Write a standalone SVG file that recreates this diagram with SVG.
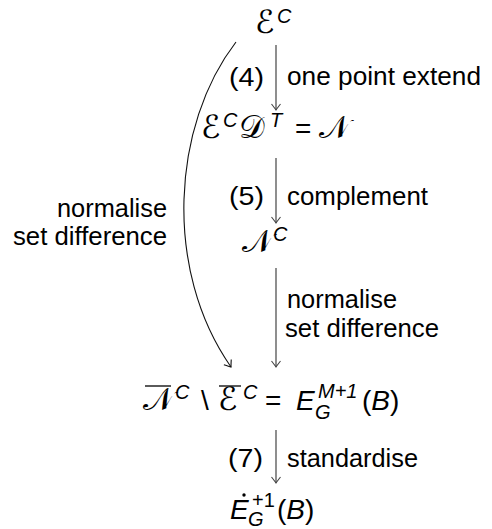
<svg xmlns="http://www.w3.org/2000/svg" width="492" height="529" viewBox="0 0 492 529">
<defs>
<style>
.lbl{font-family:"Liberation Sans",Arial,sans-serif;font-size:25px;fill:#000}
.m{font-family:"DejaVu Sans",sans-serif;font-size:32px;fill:#000}
.mi{font-family:"Liberation Sans",Arial,sans-serif;font-style:italic;font-size:28px;fill:#000}
.up{font-family:"Liberation Sans",Arial,sans-serif;font-size:28px;fill:#000}
.sup{font-family:"Liberation Sans",Arial,sans-serif;font-style:italic;font-size:20px;fill:#000}
.supu{font-family:"Liberation Sans",Arial,sans-serif;font-size:20px;fill:#000}
.arr{fill:none;stroke:#444;stroke-width:1.2;marker-end:url(#ah)}
.cur{fill:none;stroke:#111;stroke-width:1.1;marker-end:url(#ah2)}
.ov{stroke:#000;stroke-width:1.3}
</style>
<marker id="ah" markerWidth="12" markerHeight="12" viewBox="-8 -6 10 12" refX="0" refY="0" orient="auto" markerUnits="userSpaceOnUse">
<path d="M-6,-4.5 Q-1.5,-1 0,0 Q-1.5,1 -6,4.5" fill="none" stroke="#444" stroke-width="1.1"/>
</marker>
<marker id="ah2" markerWidth="12" markerHeight="12" viewBox="-8 -6 10 12" refX="0" refY="0" orient="auto" markerUnits="userSpaceOnUse">
<path d="M-6,-4.5 Q-1.5,-1 0,0 Q-1.5,1 -6,4.5" fill="none" stroke="#111" stroke-width="1.1"/>
</marker>
</defs>
<rect width="492" height="529" fill="#fff"/>
<g id="connectors">
<path class="arr" d="M276,45 V110"/>
<path class="arr" d="M276,158 V223"/>
<path class="arr" d="M276,268 V367"/>
<path class="arr" d="M276,430 V483"/>
<path class="cur" d="M236,42 C172,125 163,270 231,367"/>
<text class="lbl" x="264" y="86" text-anchor="end" textLength="35" lengthAdjust="spacingAndGlyphs">(4)</text>
<text class="lbl" x="287" y="85" textLength="194" lengthAdjust="spacingAndGlyphs">one point extend</text>
<text class="lbl" x="264" y="205" text-anchor="end" textLength="35" lengthAdjust="spacingAndGlyphs">(5)</text>
<text class="lbl" x="287" y="205" textLength="141" lengthAdjust="spacingAndGlyphs">complement</text>
<text class="lbl" x="287" y="308" textLength="110" lengthAdjust="spacingAndGlyphs">normalise</text>
<text class="lbl" x="285" y="337" textLength="154" lengthAdjust="spacingAndGlyphs">set difference</text>
<text class="lbl" x="167" y="217" text-anchor="end" textLength="110" lengthAdjust="spacingAndGlyphs">normalise</text>
<text class="lbl" x="167" y="245" text-anchor="end" textLength="154" lengthAdjust="spacingAndGlyphs">set difference</text>
<text class="lbl" x="263" y="467" text-anchor="end" textLength="35" lengthAdjust="spacingAndGlyphs">(7)</text>
<text class="lbl" x="287" y="467" textLength="131" lengthAdjust="spacingAndGlyphs">standardise</text>
</g>
<g id="node-EC">
<text class="m" x="255" y="33">ℰ</text>
<text class="sup" x="277" y="23">C</text>
</g>
<g id="node-ECDT">
<text class="m" x="201" y="138">ℰ</text>
<text class="sup" x="223" y="127">C</text>
<text class="m" x="239" y="138">𝒟</text>
<text class="sup" x="270" y="127">T</text>
<text class="up" x="295" y="138">=</text>
<text class="m" x="319" y="138">𝒩</text>
</g>
<g id="node-NC">
<text class="m" x="242" y="252">𝒩</text>
<text class="sup" x="273" y="241">C</text>
</g>
<g id="node-diff">
<line class="ov" x1="145" y1="386" x2="171" y2="386"/>
<line class="ov" x1="219" y1="386" x2="241" y2="386"/>
<text class="m" x="143" y="410">𝒩</text>
<text class="sup" x="175" y="399">C</text>
<text class="up" x="201" y="410">\</text>
<text class="m" x="218" y="410">ℰ</text>
<text class="sup" x="243" y="399">C</text>
<text class="up" x="265" y="410">=</text>
<text class="mi" x="296" y="410">E</text>
<text class="sup" x="315" y="419">G</text>
<text class="sup" x="318" y="398">M<tspan class="supu">+1</tspan></text>
<text class="up" x="362" y="410">(<tspan class="mi">B</tspan>)</text>
</g>
<g id="node-Edot">
<text class="mi" x="230" y="519">E</text>
<circle cx="244" cy="495" r="1.7" fill="#000"/>
<text class="sup" x="248" y="526">G</text>
<text class="supu" x="252" y="507">+1</text>
<text class="up" x="277" y="519">(<tspan class="mi">B</tspan>)</text>
</g>
</svg>
